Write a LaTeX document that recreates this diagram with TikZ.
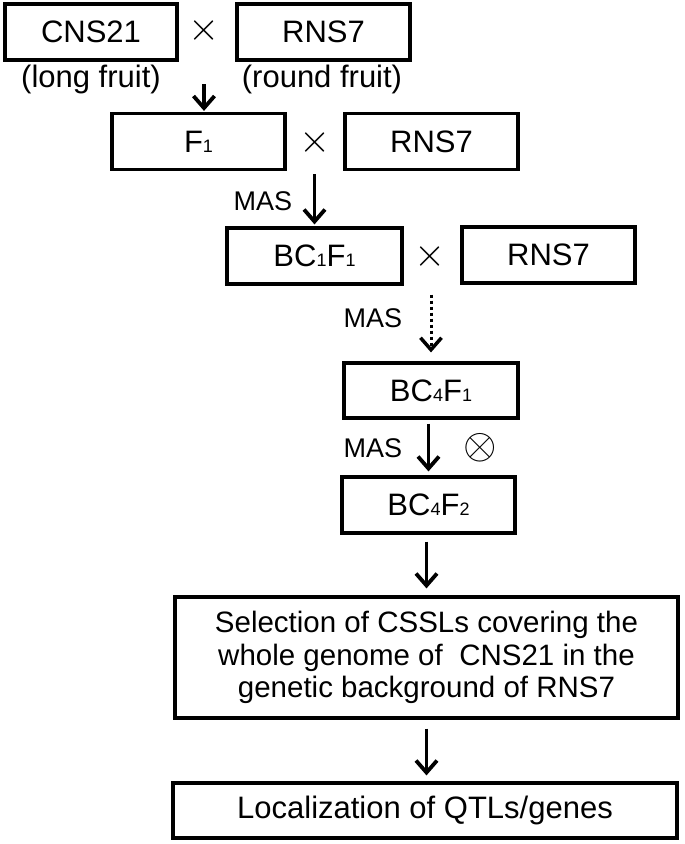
\documentclass[tikz,border=0pt]{standalone}
\usepackage{graphicx}
\usepackage{fontspec}
\setmainfont{Liberation Sans}
\usetikzlibrary{arrows.meta}
\newcommand\sbs[1]{{\fontsize{18}{18}\selectfont #1}}
\begin{document}
\begin{tikzpicture}[x=1pt,y=-1pt,
  box/.style={draw, line width=3.2pt, inner sep=0pt, minimum height=56pt, font=\fontsize{31}{34}\selectfont},
  lbl/.style={inner sep=0pt, font=\fontsize{31}{34}\selectfont},
  mas/.style={inner sep=0pt, font=\fontsize{27}{30}\selectfont},
  crossmark/.style={inner sep=0pt},
  selfmark/.style={inner sep=0pt},
  arr/.style={line width=3.5pt, -{Straight Barb[length=12pt,width=21pt,line width=3.8pt]}},
  dotarr/.style={line width=3pt, dash pattern=on 3pt off 3pt, -{Straight Barb[length=12pt,width=21pt,line width=3.5pt]}}
]
\useasboundingbox (0,0) rectangle (685,844);
\node[box,minimum width=172pt] (cns) at (91,32) {CNS21};
\node[box,minimum width=173pt] (rns1) at (323.5,32) {RNS7};
\node[crossmark] (x1) at (204,30) {\scalebox{4}{$\times$}};
\node[lbl] (long) at (91,79) {(long fruit)};
\node[lbl] (round) at (322,79) {(round fruit)};
\node[box,minimum width=173pt] (f1) at (198.5,141.5) {F\sbs{1}};
\node[crossmark] (x2) at (315,142) {\scalebox{4}{$\times$}};
\node[box,minimum width=173pt] (rns2) at (431.5,141.5) {RNS7};
\node[box,minimum width=175pt] (bc1) at (314.5,256) {BC\sbs{1}F\sbs{1}};
\node[crossmark] (x3) at (430,256) {\scalebox{4}{$\times$}};
\node[box,minimum width=173pt] (rns3) at (548.5,255) {RNS7};
\node[mas] (mas1) at (263,201) {MAS};
\node[mas] (mas2) at (373,318) {MAS};
\node[box,minimum width=174pt,minimum height=55pt] (bc4a) at (431,390.5) {BC\sbs{4}F\sbs{1}};
\node[mas] (mas3) at (373,448) {MAS};
\node[selfmark] (selfing) at (480,448) {\scalebox{4.3}{$\otimes$}};
\node[box,minimum width=173pt] (bc4b) at (428.5,505) {BC\sbs{4}F\sbs{2}};
\node[box,minimum width=503pt,minimum height=121pt,align=center,font=\fontsize{29.5}{32.5}\selectfont] (sel) at (426.5,657.5) {Selection of CSSLs covering the\\whole genome of\ \ CNS21 in the\\genetic background of RNS7};
\node[box,minimum width=504pt,minimum height=55pt] (loc) at (425,810.5) {Localization of QTLs/genes};
\draw[arr] ([yshift=-54pt]x1.center) -- ([yshift=1pt]x1 |- f1.north);
\draw[arr] ([yshift=-3pt]f1.south -| bc1.north) -- ([yshift=2pt]bc1.north);
\draw[dotarr] ([yshift=-9pt]bc1.south -| bc4a.north) -- ([yshift=9pt]bc4a.north);
\draw[arr] ([yshift=-4pt]bc4a.south -| bc4b.north) -- ([yshift=4pt]bc4b.north);
\draw[arr] ([yshift=-7pt]bc4b.south -| sel.north) -- ([yshift=7pt]sel.north);
\draw[arr] ([yshift=-9pt]sel.south) -- ([yshift=6pt]loc.north -| sel.south);
\end{tikzpicture}
\end{document}
